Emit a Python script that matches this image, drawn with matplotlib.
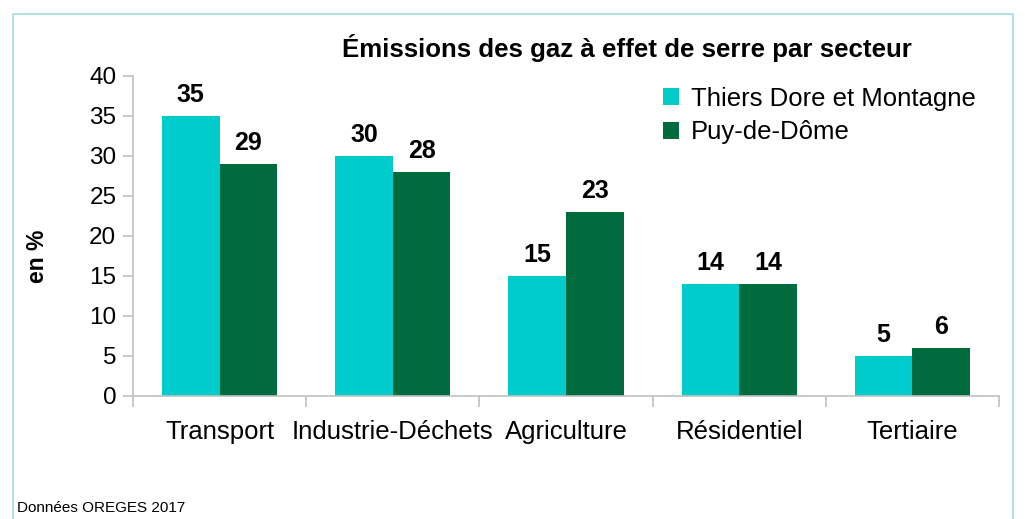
import matplotlib
matplotlib.use("Agg")
import matplotlib.pyplot as plt
from matplotlib.lines import Line2D
import numpy as np

categories = ["Transport", "Industrie-Déchets", "Agriculture", "Résidentiel", "Tertiaire"]
series_names = ["Thiers Dore et Montagne", "Puy-de-Dôme"]
thiers = [35, 30, 15, 14, 5]
puy = [29, 28, 23, 14, 6]
yticks = [0, 5, 10, 15, 20, 25, 30, 35, 40]

plt.rcParams['font.family'] = ['Liberation Sans', 'DejaVu Sans']

W, H = 1025, 519
fig = plt.figure(figsize=(W / 100, H / 100), dpi=100)
ax = fig.add_axes([133 / W, 1 - 396 / H, (999 - 133) / W, (396 - 76) / H])

c1 = "#00CCCC"
c2 = "#006B3C"
x = np.arange(len(categories))
bw = 0.333
b1 = ax.bar(x - bw / 2, thiers, bw, color=c1, label=series_names[0])
b2 = ax.bar(x + bw / 2, puy, bw, color=c2, label=series_names[1])

for bars, vals in ((b1, thiers), (b2, puy)):
    for b, v in zip(bars, vals):
        ax.annotate(str(v), (b.get_x() + b.get_width() / 2, v), xytext=(0, 6.5),
                    textcoords="offset points", ha="center", va="bottom",
                    fontsize=18, fontweight="bold", color="#000000")

ax.set_xlim(-0.5, len(categories) - 0.5)
ax.set_ylim(0, 40)
ax.set_yticks(yticks)
ax.set_yticklabels([str(t) for t in yticks], fontsize=17.5)
ax.set_xticks(x)
ax.set_xticklabels(categories, fontsize=18.5)
ax.tick_params(axis="x", length=0, pad=17)
ax.set_xticks(np.arange(-0.5, len(categories)), minor=True)
ax.tick_params(axis="x", which="minor", length=8, width=1.2, color="#c0c0c0", direction="out")
ax.tick_params(axis="y", length=7, width=1.2, color="#c0c0c0", direction="out", pad=5)

for s in ("top", "right"):
    ax.spines[s].set_visible(False)
for s in ("left", "bottom"):
    ax.spines[s].set_color("#c0c0c0")
    ax.spines[s].set_linewidth(1.2)

fig.text(37 / W, 1 - 256 / H, "en %", rotation=90, ha="center", va="center",
         fontsize=16.5, fontweight="bold")

leg = ax.legend(loc="upper right", bbox_to_anchor=(0.991, 1.015), frameon=False,
                fontsize=18.5, handlelength=0.62, handleheight=0.62, handletextpad=0.45,
                labelspacing=0.38, borderaxespad=0.2)

fig.text(627 / W, 1 - 48 / H, "Émissions des gaz à effet de serre par secteur",
         ha="center", va="center", fontsize=18.6, fontweight="bold")
fig.text(17 / W, 1 - 508 / H, "Données OREGES 2017", ha="left", va="center", fontsize=11)

bc = "#9fdede"
fig.add_artist(Line2D([13 / W, 13 / W, 1013 / W, 1013 / W], [0, 1 - 14 / H, 1 - 14 / H, 0],
                      transform=fig.transFigure, color=bc, lw=1.2))

fig.savefig("out.png", dpi=100)
